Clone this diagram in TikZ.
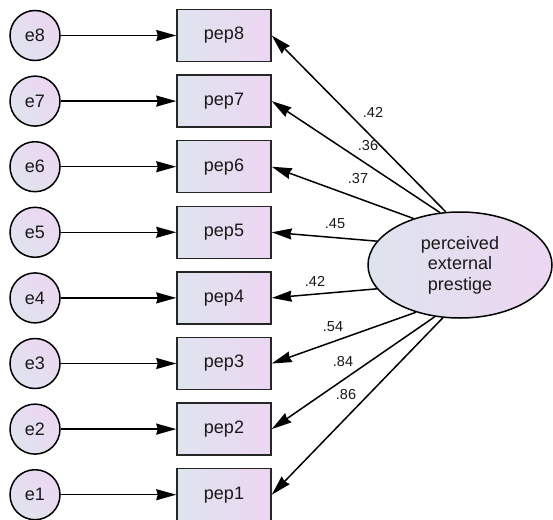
\documentclass[tikz,border=0pt]{standalone}
\usepackage{fontspec}
\setmainfont{Liberation Sans}
\usetikzlibrary{arrows.meta,shapes.geometric}
\definecolor{fillL}{RGB}{222,228,238}
\definecolor{fillR}{RGB}{237,214,242}
\definecolor{txt}{RGB}{25,25,25}
\tikzset{
  errnode/.style={circle,draw=black,line width=1.5pt,minimum size=50pt,inner sep=0pt,
    left color=fillL,right color=fillR,shading angle=135,text=txt,font=\fontsize{18}{20}\selectfont},
  obsnode/.style={rectangle,draw=black!85,line width=1.5pt,minimum width=94pt,minimum height=52pt,inner sep=0pt,
    left color=fillL,right color=fillR,text=txt,font=\fontsize{18}{20}\selectfont},
  latnode/.style={ellipse,draw=black,line width=1.5pt,minimum width=184pt,minimum height=106pt,inner sep=0pt,
    left color=fillL,right color=fillR,text=txt,align=center,font=\fontsize{18}{20.5}\selectfont},
  conn/.style={line width=1.5pt,-{Stealth[length=20pt,width=11pt,inset=1.5pt]}},
  coef/.style={font=\fontsize{14.5}{16}\selectfont,text=txt,inner sep=0pt}
}
\begin{document}
\begin{tikzpicture}[x=1pt,y=-1pt]
\useasboundingbox (0,0) rectangle (553,519);
\foreach \i/\y in {8/35.5,7/101.1,6/166.7,5/232.3,4/297.9,3/363.5,2/429.1,1/494.7}{
  \node[errnode] (e\i) at (35,\y) {e\i};
  \node[obsnode] (pep\i) at (224,\y) {pep\i};
  \draw[conn] (e\i) -- (pep\i);
}
\node[latnode] (lat) at (460,265) {perceived\\external\\prestige};
\draw[conn] (lat.105.8) -- (pep8.east);
\draw[conn] (lat.111) -- (pep7.east);
\draw[conn] (lat.135.9) -- (pep6.east);
\draw[conn] (lat.164.6) -- (pep5.east);
\draw[conn] (lat.196) -- (pep4.east);
\draw[conn] (lat.227.5) -- (pep3.east);
\draw[conn] (lat.244) -- (pep2.east);
\draw[conn] (lat.252) -- (pep1.east);
\node[coef] (c8) at (373,112) {.42};
\node[coef] (c7) at (368,146) {.36};
\node[coef] (c6) at (358,179) {.37};
\node[coef] (c5) at (335,224) {.45};
\node[coef] (c4) at (315,281) {.42};
\node[coef] (c3) at (333,327) {.54};
\node[coef] (c2) at (343,362) {.84};
\node[coef] (c1) at (346,395) {.86};
\end{tikzpicture}
\end{document}
